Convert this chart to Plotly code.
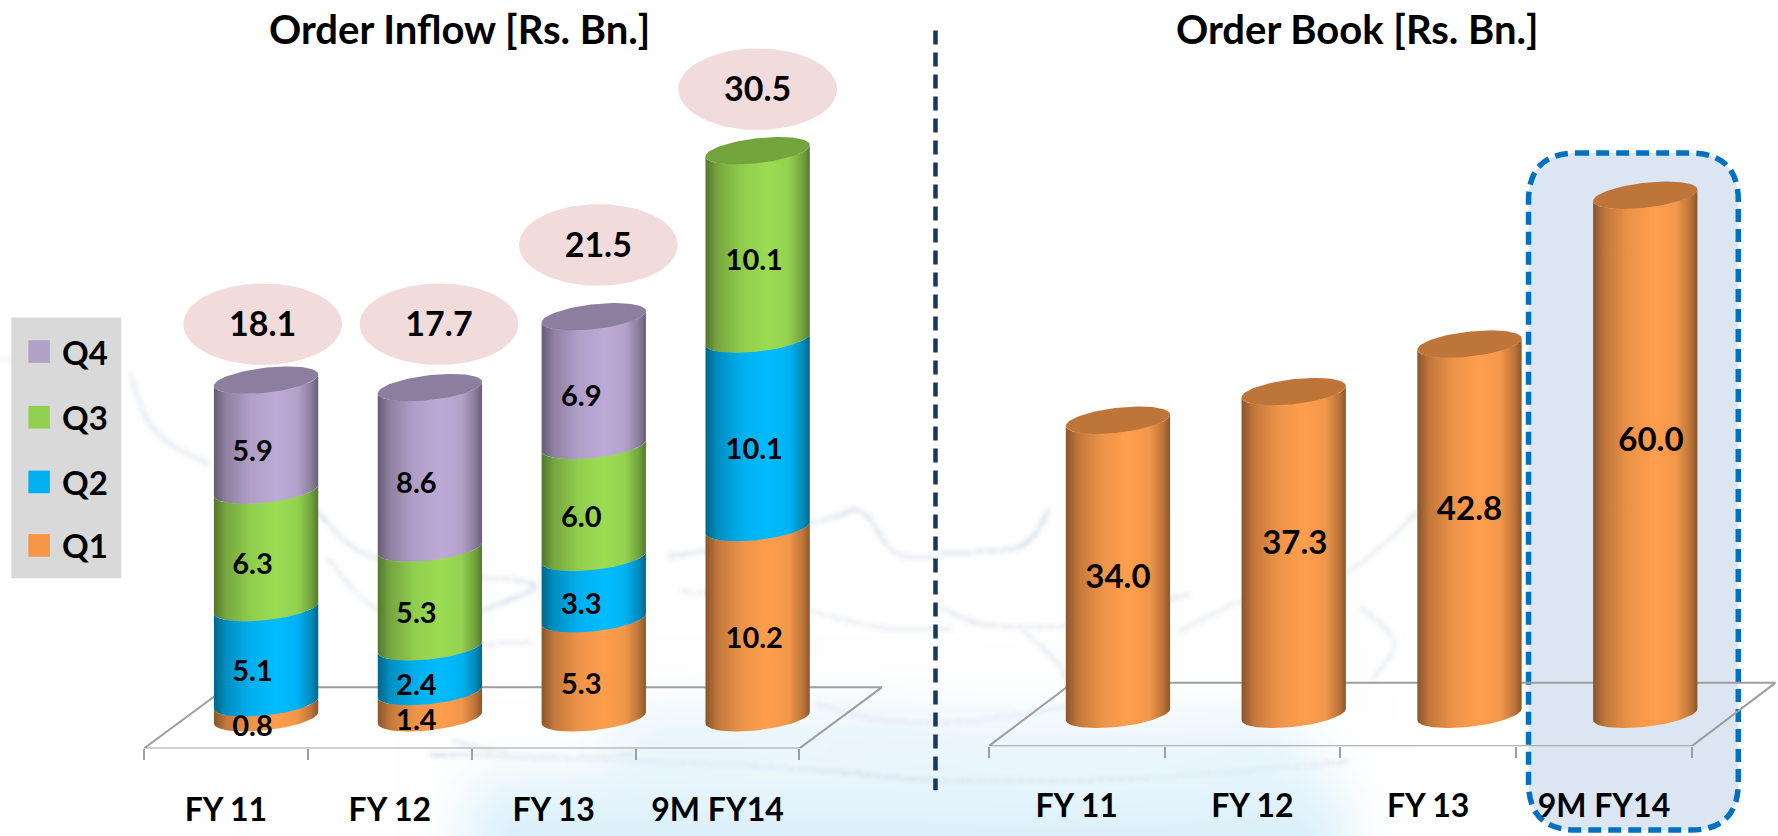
import base64, struct, zlib
import numpy as np
import plotly.graph_objects as go

# ---------- data ----------
categories = ["FY 11", "FY 12", "FY 13", "9M FY14"]
q1 = [0.8, 1.4, 5.3, 10.2]
q2 = [5.1, 2.4, 3.3, 10.1]
q3 = [6.3, 5.3, 6.0, 10.1]
q4 = [5.9, 8.6, 6.9, 0]
inflow_total = [18.1, 17.7, 21.5, 30.5]
order_book = [34.0, 37.3, 42.8, 60.0]
series_names = ["Q1", "Q2", "Q3", "Q4"]
title_left = "Order Inflow [Rs. Bn.]"
title_right = "Order Book [Rs. Bn.]"

# ---------- style / layout ----------
W, H = 1778, 836
K = W / 1568
FONT = "Lato"
base_colors = {"Q1": (255, 158, 77), "Q2": (0, 188, 255), "Q3": (155, 220, 83), "Q4": (189, 170, 214)}
legend_colors = {"Q1": "#F79646", "Q2": "#00B0F0", "Q3": "#92D050", "Q4": "#B3A2C7"}
FLOOR = "#9E9E9E"
HALF_W = 46 * K
CAP_B = 11 * K
CAP_T = 5 * K
CAP_SHADE = 0.74
SHADE_STOPS = [(0, .54), (.12, .76), (.35, .93), (.6, 1), (.8, .95), (.93, .74), (1, .55)]

L = dict(x0=127 * K, x1=705 * K, back=73 * K, y_front=660 * K, y_base=633 * K, ppu=16.45 * K, depth=0.245)
R = dict(x0=872 * K, x1=1492 * K, back=74 * K, y_front=658 * K, y_base=630 * K, ppu=7.63 * K, depth=0.235)
bubble_gap = [3.0, 3.4, 3.85, 3.2]
bubble_dx = [-3 * K, 8 * K, 4 * K, 0]
segment_dx = [-12 * K, -12 * K, -11 * K, -3 * K]
book_label_dx = [0, K, 0, 5 * K]
book_label_dy = [-11 * K, 6 * K, 15 * K, 11 * K]
TEXT_DROP = 3 * K


def rgb(c, m=1.0):
    return "rgb(%d,%d,%d)" % tuple(min(255, round(v * m)) for v in c)


def shade_scale(c):
    return [[p, rgb(c, m)] for p, m in SHADE_STOPS]


# ---------- soft water backdrop ----------
def backdrop():
    s = 2
    h, w = H // s, W // s

    def catmull(pts, n=40):
        p = np.array(pts, float)
        p = np.vstack([p[0], p, p[-1]])
        out = []
        for i in range(1, len(p) - 2):
            for u in np.linspace(0, 1, n, endpoint=False):
                out.append(0.5 * (2 * p[i] + (p[i + 1] - p[i - 1]) * u
                                  + (2 * p[i - 1] - 5 * p[i] + 4 * p[i + 1] - p[i + 2]) * u * u
                                  + (3 * p[i] - p[i - 1] - 3 * p[i + 1] + p[i + 2]) * u ** 3))
        return np.array(out)

    def stroke(arr, pts, width, val):
        c = catmull(np.array(pts, float) * [K, 536 / 1568] + [0, 300]) / s
        r = int(round(width / s))
        for x, y in c:
            ix, iy = int(x), int(y)
            arr[max(0, iy - r):min(h, iy + r + 1), max(0, ix - r):min(w, ix + r + 1)] = val

    def blur(a, r, n=3):
        a = a.copy()
        for _ in range(n):
            for ax in (0, 1):
                e = np.pad(a, [(r + 1, r) if i == ax else (0, 0) for i in range(2)], mode="edge")
                c = np.cumsum(e, axis=ax)
                if ax == 0:
                    a = (c[2 * r + 1:, :] - c[:-2 * r - 1, :]) / (2 * r + 1)
                else:
                    a = (c[:, 2 * r + 1:] - c[:, :-2 * r - 1]) / (2 * r + 1)
        return a

    wash = np.zeros((h, w))
    # all stroke points below are (x, y) in the stretched crop used for reading the picture
    stroke(wash, [(440, 1560), (600, 1530), (1000, 1510), (1160, 1540)], 30, .8)
    stroke(wash, [(440, 1450), (700, 1450), (1000, 1460), (1150, 1430)], 22, .55)
    stroke(wash, [(560, 1290), (700, 1260), (830, 1290), (1000, 1290), (1130, 1290)], 22, .55)
    wash = blur(wash, 12)

    lines = [
        ([(115, 220), (130, 350), (150, 420), (185, 480)], 1, .4),
        ([(280, 620), (320, 740), (390, 800), (470, 830), (440, 890), (380, 950)], 1, .55),
        ([(290, 760), (330, 900), (400, 1000), (470, 1000)], 1, .4),
        ([(590, 750), (640, 720), (730, 640), (760, 620), (790, 740), (830, 750)], 1, .5),
        ([(830, 740), (900, 720), (925, 610)], 1, .6),
        ([(830, 900), (870, 950), (950, 950), (1000, 900), (1050, 860)], 1, .5),
        ([(600, 850), (700, 900), (780, 960), (840, 960)], 1, .4),
        ([(1040, 970), (1110, 860), (1190, 790), (1250, 620)], 1, .45),
        ([(900, 960), (930, 1050), (940, 1110)], 1, .35),
        ([(1200, 900), (1230, 1000), (1210, 1110)], 1, .35),
        ([(380, 1330), (500, 1340), (700, 1370), (830, 1405), (1000, 1400), (1190, 1350)], 1, .75),
        ([(400, 1290), (470, 1340), (560, 1330)], 1, .4),
        ([(0, 170), (20, 180)], 1, .3),
        ([(720, 1180), (780, 1230), (860, 1230), (940, 1190)], 1, .3),
    ]
    img = np.zeros((h, w))
    for pts, wd, v in lines:
        tmp = np.zeros((h, w))
        stroke(tmp, pts, wd, v)
        img = np.maximum(img, blur(tmp, 1, 2))
    c1 = np.array([218, 240, 251.0])
    c2 = np.array([190, 205, 222.0])
    out = 255 + np.clip(wash * 1.3, 0, 1)[..., None] * (c1 - 255)
    out = out + np.clip(img * 1.6, 0, 1)[..., None] * (c2 - out)
    arr = np.clip(out, 0, 255).astype(np.uint8)
    raw = b"".join(b"\x00" + arr[i].tobytes() for i in range(h))

    def chunk(t, d):
        return struct.pack(">I", len(d)) + t + d + struct.pack(">I", zlib.crc32(t + d) & 0xffffffff)

    png = b"\x89PNG\r\n\x1a\n" + chunk(b"IHDR", struct.pack(">IIBBBBB", w, h, 8, 2, 0, 0, 0)) + \
        chunk(b"IDAT", zlib.compress(raw)) + chunk(b"IEND", b"")
    return "data:image/png;base64," + base64.b64encode(png).decode()


# ---------- axis set-up ----------
def geometry(g):
    g = dict(g)
    g["xunit"] = (g["x1"] - g["x0"]) / 4
    g["a"] = HALF_W / g["xunit"]
    g["b"] = CAP_B / g["ppu"]
    g["t"] = CAP_T / g["ppu"]
    g["xdomain"] = [g["x0"] / W, (g["x1"] + g["back"]) / W]
    g["xrange"] = [-0.5, 3.5 + g["back"] / g["xunit"]]
    g["ydomain"] = [1 - g["y_front"] / H, 1]
    g["yrange"] = [(g["y_base"] - g["y_front"]) / g["ppu"], g["y_base"] / g["ppu"]]
    return g


L, R = geometry(L), geometry(R)
fig = go.Figure()


def add_floor(g, xa, ya):
    off = g["back"] / g["xunit"]
    yf = g["yrange"][0]
    yb = -yf
    fig.add_trace(go.Scatter(
        x=[-0.5, 3.5, 3.5 + off, -0.5 + off, -0.5], y=[yf, yf, yb, yb, yf], mode="lines",
        line=dict(color=FLOOR, width=2), cliponaxis=False, showlegend=False, hoverinfo="skip",
        xaxis=xa, yaxis=ya))


def front_arc(g, cx, y):
    th = np.linspace(np.pi, 2 * np.pi, 60)
    return cx + g["a"] * np.cos(th), y + g["t"] * np.cos(th) + g["b"] * np.sin(th)


def add_segment(g, cx, y0, y1, color, xa, ya):
    xb, yb = front_arc(g, cx, y0)
    xt, yt = front_arc(g, cx, y1)
    fig.add_trace(go.Scatter(
        x=np.r_[xb, xt[::-1], xb[0]], y=np.r_[yb, yt[::-1], yb[0]], mode="lines", fill="toself",
        line=dict(width=0), fillgradient=dict(type="horizontal", colorscale=shade_scale(color)),
        showlegend=False, hoverinfo="skip", xaxis=xa, yaxis=ya))


def add_cap(g, cx, y, color, xa, ya):
    th = np.linspace(0, 2 * np.pi, 90)
    fig.add_trace(go.Scatter(
        x=cx + g["a"] * np.cos(th), y=y + g["t"] * np.cos(th) + g["b"] * np.sin(th), mode="lines",
        fill="toself", fillcolor=rgb(color, CAP_SHADE), line=dict(width=0),
        showlegend=False, hoverinfo="skip", xaxis=xa, yaxis=ya))


def axis(g, standoff):
    return dict(domain=g["xdomain"], range=g["xrange"], tickmode="array", tickvals=list(range(4)),
                ticktext=categories, ticks="", showgrid=False, zeroline=False, showline=False,
                ticklabelstandoff=standoff, tickfont=dict(family=FONT, size=32, color="black", weight="bold"),
                minor=dict(ticks="outside", tick0=-0.5, dtick=1, ticklen=11, tickwidth=2, tickcolor=FLOOR, showgrid=False))


def yaxis(g, anchor):
    return dict(domain=g["ydomain"], range=g["yrange"], visible=False, anchor=anchor)


# ---------- left chart: stacked cylinders ----------
add_floor(L, "x", "y")
cx_left = [i + L["depth"] for i in range(4)]
stack = [q1, q2, q3, q4]
for name, vals in zip(series_names, stack):
    fig.add_trace(go.Bar(x=cx_left, y=vals, width=0.5, name=name, marker=dict(color=rgb(base_colors[name]), line=dict(width=0)),
                         showlegend=False, hoverinfo="x+y+name", xaxis="x", yaxis="y"))

lab_x, lab_y, lab_t = [], [], []
for i, cx in enumerate(cx_left):
    bottom = 0.0
    top_name = None
    for name, vals in zip(series_names, stack):
        v = vals[i]
        if not v:
            continue
        add_segment(L, cx, bottom, bottom + v, base_colors[name], "x", "y")
        lab_x.append(cx + segment_dx[i] / L["xunit"])
        lab_y.append(bottom + v / 2 - (13 * K + TEXT_DROP) / L["ppu"])
        lab_t.append(f"{v:.1f}")
        bottom += v
        top_name = name
    add_cap(L, cx, bottom, base_colors[top_name], "x", "y")

fig.add_trace(go.Scatter(x=lab_x, y=lab_y, text=lab_t, mode="text", textposition="middle center",
                         textfont=dict(family=FONT, size=29, color="black", weight="bold"),
                         showlegend=False, hoverinfo="skip", xaxis="x", yaxis="y"))

# total bubbles
th = np.linspace(0, 2 * np.pi, 90)
for i, tot in enumerate(inflow_total):
    bx = cx_left[i] + bubble_dx[i] / L["xunit"]
    by = tot + bubble_gap[i]
    fig.add_trace(go.Scatter(x=bx + 70 * K / L["xunit"] * np.cos(th), y=by + 36 * K / L["ppu"] * np.sin(th),
                             mode="lines", fill="toself", fillcolor="#F2DCDB", line=dict(width=0),
                             showlegend=False, hoverinfo="skip", xaxis="x", yaxis="y"))
    fig.add_trace(go.Scatter(x=[bx], y=[by - TEXT_DROP / L["ppu"]], text=[f"{tot:.1f}"], mode="text", textposition="middle center",
                             textfont=dict(family=FONT, size=34, color="black", weight="bold"),
                             showlegend=False, hoverinfo="skip", xaxis="x", yaxis="y"))

# ---------- right chart ----------
add_floor(R, "x2", "y2")
cx_right = [i + R["depth"] for i in range(4)]
fig.add_trace(go.Bar(x=cx_right, y=order_book, width=0.5, name="Order Book", marker=dict(color=rgb(base_colors["Q1"]), line=dict(width=0)),
                     showlegend=False, xaxis="x2", yaxis="y2"))
for cx, v in zip(cx_right, order_book):
    add_segment(R, cx, 0, v, base_colors["Q1"], "x2", "y2")
    add_cap(R, cx, v, base_colors["Q1"], "x2", "y2")
fig.add_trace(go.Scatter(x=[c + d / R["xunit"] for c, d in zip(cx_right, book_label_dx)],
                         y=[v / 2 + d / R["ppu"] for v, d in zip(order_book, book_label_dy)],
                         text=[f"{v:.1f}" for v in order_book], mode="text", textposition="middle center",
                         textfont=dict(family=FONT, size=33, color="black", weight="bold"),
                         showlegend=False, hoverinfo="skip", xaxis="x2", yaxis="y2"))


# ---------- decorations ----------
def px(x):
    return x / W


def py(y):
    return 1 - y / H


bx0, bx1, by0, by1, rad = 1348 * K, 1533 * K, 135 * K, 732 * K, 42 * K
box = (f"M{px(bx0 + rad)},{py(by0)} L{px(bx1 - rad)},{py(by0)} Q{px(bx1)},{py(by0)} {px(bx1)},{py(by0 + rad)} "
       f"L{px(bx1)},{py(by1 - rad)} Q{px(bx1)},{py(by1)} {px(bx1 - rad)},{py(by1)} "
       f"L{px(bx0 + rad)},{py(by1)} Q{px(bx0)},{py(by1)} {px(bx0)},{py(by1 - rad)} "
       f"L{px(bx0)},{py(by0 + rad)} Q{px(bx0)},{py(by0)} {px(bx0 + rad)},{py(by0)} Z")
shapes = [
    dict(type="path", path=box, xref="paper", yref="paper", layer="below", fillcolor="#DCE6F2",
         line=dict(color="#0070C0", width=5.5, dash="13px,7px")),
    dict(type="line", xref="paper", yref="paper", x0=px(825 * K), x1=px(825 * K), y0=py(27 * K), y1=py(697 * K),
         line=dict(color="#17375E", width=4.5, dash="14px,8px"), layer="below"),
    dict(type="rect", xref="paper", yref="paper", x0=px(10 * K), x1=px(107 * K), y0=py(280 * K), y1=py(510 * K),
         fillcolor="#D9D9D9", line=dict(width=0), layer="below"),
]
annotations = [
    dict(text=title_left, x=px(405 * K), y=py(26 * K)),
    dict(text=title_right, x=px(1197 * K), y=py(26 * K)),
]
annotations = [dict(a, xref="paper", yref="paper", showarrow=False, xanchor="center", yanchor="middle",
                    font=dict(family=FONT, size=40, color="black", weight="bold")) for a in annotations]
for name, yc in zip(series_names, [481, 425, 368, 310]):
    yc *= K
    shapes.append(dict(type="rect", xref="paper", yref="paper", x0=px(25 * K), x1=px(44 * K),
                       y0=py(yc - 10 * K), y1=py(yc + 10 * K), fillcolor=legend_colors[name], line=dict(width=0), layer="below"))
    annotations.append(dict(text=name, xref="paper", yref="paper", x=px(53 * K), y=py(yc), showarrow=False,
                            xanchor="left", yanchor="middle", font=dict(family=FONT, size=33, color="black", weight="bold")))

fig.update_layout(
    width=W, height=H, autosize=False, margin=dict(l=0, r=0, t=0, b=0),
    paper_bgcolor="white", plot_bgcolor="rgba(0,0,0,0)", barmode="stack", showlegend=False,
    xaxis=axis(L, 40), yaxis=yaxis(L, "x"), xaxis2=axis(R, 38), yaxis2=yaxis(R, "x2"),
    shapes=shapes, annotations=annotations,
    images=[dict(source=backdrop(), xref="paper", yref="paper", x=0, y=1, sizex=1, sizey=1,
                 sizing="stretch", xanchor="left", yanchor="top", layer="below")],
)
fig.update_layout(xaxis_anchor="y", xaxis2_anchor="y2")
fig.write_html("out.html", config=dict(displayModeBar=False),
               post_script="document.body.style.margin='0';document.documentElement.style.overflow='hidden';")
